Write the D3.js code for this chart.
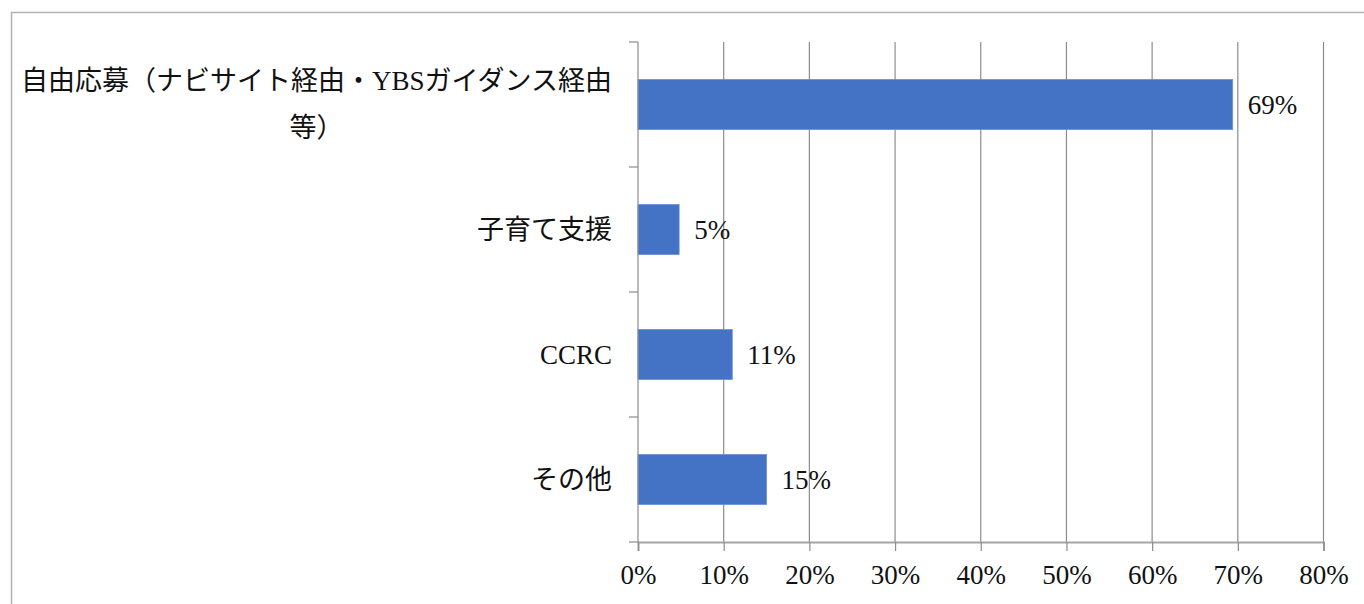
<!DOCTYPE html>
<html>
<head>
<meta charset="utf-8">
<script src="https://cdn.jsdelivr.net/npm/d3@7"></script>
<style>
  body { margin: 0; background: #fff; }
  text { font-family: "Liberation Serif", "Noto Sans CJK JP", serif; fill: #111; }
</style>
</head>
<body>
<div id="chart"></div>
<script>
// Data.
const categories = [
    ["自由応募（ナビサイト経由・YBSガイダンス経由", "等）"],
    ["子育て支援"],
    ["CCRC"],
    ["その他"]
];
const values = [69.4, 4.8, 11.0, 15.0];
const valueLabels = ["69%", "5%", "11%", "15%"];
const xTicks = [0, 10, 20, 30, 40, 50, 60, 70, 80];

// Canvas and plot area.
const w = 1364, h = 604;
const plotLeft = 638, plotRight = 1323.5, plotTop = 42, plotBottom = 542;
const fontSize = 27;

let svg = d3.select("#chart")
            .append("svg")
            .attr("width", w)
            .attr("height", h);

// Outer chart border.
svg.append("rect")
    .attr("x", 11.5)
    .attr("y", 12.5)
    .attr("width", 1400)
    .attr("height", 700)
    .attr("fill", "none")
    .attr("stroke", "#b3b3b3")
    .attr("stroke-width", 1.5);

const xScale = d3.scaleLinear()
                .domain([0, 80])
                .range([plotLeft, plotRight]);
const yScale = d3.scaleBand()
                .domain(d3.range(categories.length))
                .range([plotTop, plotBottom])
                .paddingInner(0.6)
                .paddingOuter(0.3);

// Vertical gridlines.
svg.append("g")
    .selectAll("line")
    .data(xTicks.slice(1))
    .enter()
    .append("line")
    .attr("x1", d => xScale(d))
    .attr("x2", d => xScale(d))
    .attr("y1", plotTop)
    .attr("y2", plotBottom)
    .attr("stroke", "#8c8c8c")
    .attr("stroke-width", 1.2);

// Bars.
svg.append("g")
    .selectAll("rect")
    .data(values)
    .enter()
    .append("rect")
    .attr("x", xScale(0))
    .attr("y", (d, i) => yScale(i))
    .attr("width", d => xScale(d) - xScale(0))
    .attr("height", yScale.bandwidth())
    .attr("fill", "#4472c4")
    .attr("stroke", "#6a8fd3")
    .attr("stroke-width", 0.8);

// Value labels.
svg.append("g")
    .selectAll("text")
    .data(values)
    .enter()
    .append("text")
    .attr("x", d => xScale(d) + 15)
    .attr("y", (d, i) => yScale(i) + yScale.bandwidth() / 2)
    .attr("dy", "0.35em")
    .attr("font-size", fontSize)
    .text((d, i) => valueLabels[i]);

// X axis.
const xAxis = d3.axisBottom(xScale)
                .tickValues(xTicks)
                .tickSize(9)
                .tickPadding(14)
                .tickFormat(d => d + "%");

const gx = svg.append("g")
    .attr("transform", `translate(0, ${plotBottom})`)
    .call(xAxis);
gx.attr("font-family", null).attr("font-size", null);
gx.select(".domain").attr("stroke", "#a6a6a6").attr("stroke-width", 2);
gx.selectAll(".tick line").attr("stroke", "#8c8c8c").attr("stroke-width", 1.2);
gx.selectAll(".tick text")
    .attr("font-size", fontSize)
    .attr("fill", "#111");

// Y axis: line and tick marks between categories.
const step = (plotBottom - plotTop) / categories.length;
svg.append("line")
    .attr("x1", plotLeft).attr("x2", plotLeft)
    .attr("y1", plotTop).attr("y2", plotBottom)
    .attr("stroke", "#8c8c8c")
    .attr("stroke-width", 1.2);
svg.append("g")
    .selectAll("line")
    .data(d3.range(categories.length + 1))
    .enter()
    .append("line")
    .attr("x1", plotLeft - 9)
    .attr("x2", plotLeft)
    .attr("y1", d => plotTop + d * step)
    .attr("y2", d => plotTop + d * step)
    .attr("stroke", "#8c8c8c")
    .attr("stroke-width", 1.2);

// Category labels (right aligned, wrapped lines centred under the first).
const labelRight = 612;
const lineHeight = 47;
categories.forEach((lines, i) => {
    const cy = yScale(i) + yScale.bandwidth() / 2;
    const t = svg.append("text")
        .attr("font-size", fontSize)
        .attr("text-anchor", "end")
        .attr("x", labelRight)
        .attr("y", cy - (lines.length - 1) * lineHeight / 2)
        .attr("dy", "0.35em")
        .text(lines[0]);
    if (lines.length > 1) {
        const wFirst = t.node().getComputedTextLength();
        for (let k = 1; k < lines.length; k++) {
            svg.append("text")
                .attr("font-size", fontSize)
                .attr("text-anchor", "middle")
                .attr("x", labelRight - wFirst / 2)
                .attr("y", cy - (lines.length - 1) * lineHeight / 2 + k * lineHeight)
                .attr("dy", "0.35em")
                .text(lines[k]);
        }
    }
});
</script>
</body>
</html>
